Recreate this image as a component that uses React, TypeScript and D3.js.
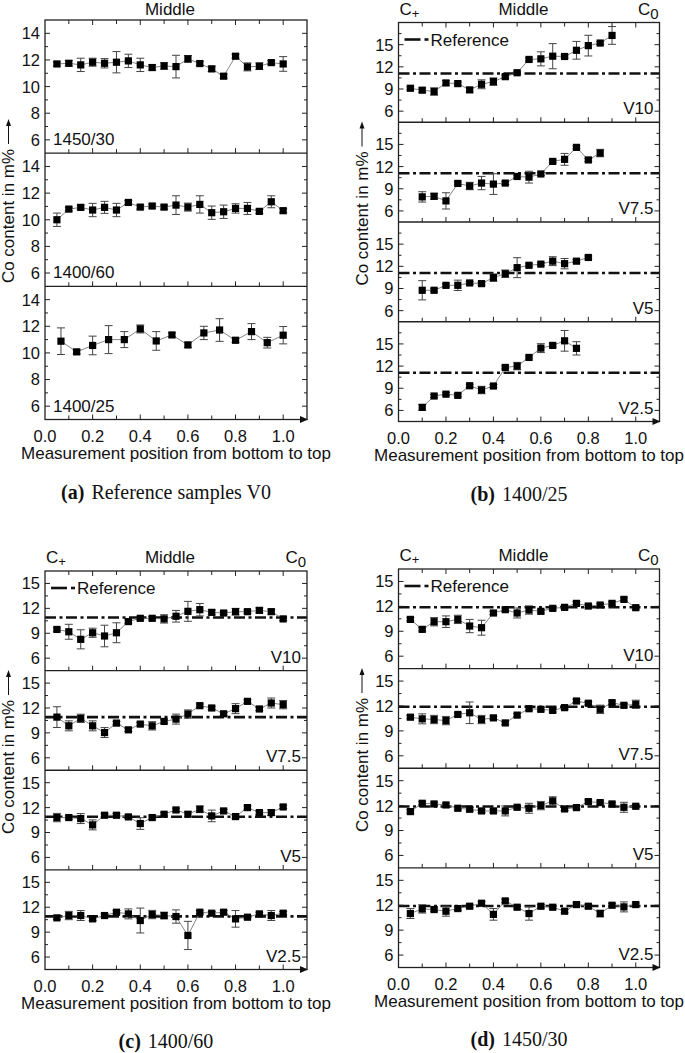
import React from 'react';
import * as d3 from 'd3';

// ---------- data ----------
const pos20 = [0.05, 0.1, 0.15, 0.2, 0.25, 0.3, 0.35, 0.4, 0.45, 0.5, 0.55, 0.6, 0.65, 0.7, 0.75, 0.8, 0.85, 0.9, 0.95, 1.0];
const pos15 = [0.067, 0.133, 0.2, 0.267, 0.333, 0.4, 0.467, 0.533, 0.6, 0.667, 0.733, 0.8, 0.867, 0.933, 1.0];
const posB10 = [0.05, 0.1, 0.15, 0.2, 0.25, 0.3, 0.35, 0.4, 0.45, 0.5, 0.55, 0.6, 0.65, 0.7, 0.75, 0.8, 0.85, 0.9];
const posB75 = [0.1, 0.15, 0.2, 0.25, 0.3, 0.35, 0.4, 0.45, 0.5, 0.55, 0.6, 0.65, 0.7, 0.75, 0.8, 0.85];
const posB5 = [0.1, 0.15, 0.2, 0.25, 0.3, 0.35, 0.4, 0.45, 0.5, 0.55, 0.6, 0.65, 0.7, 0.75, 0.8];
const posB25 = [0.1, 0.15, 0.2, 0.25, 0.3, 0.35, 0.4, 0.45, 0.5, 0.55, 0.6, 0.65, 0.7, 0.75];

const xTickLabels = [0, 0.2, 0.4, 0.6, 0.8, 1.0];
const xTicksAll = [0.1, 0.2, 0.3, 0.4, 0.5, 0.6, 0.7, 0.8, 0.9, 1.0];
const yTicksA = [6, 8, 10, 12, 14];
const yMinorA = [7, 9, 11, 13];
const yTicksV = [6, 9, 12, 15];
const yMinorB = [7.5, 10.5, 13.5, 16.5];
const yMinorCD = [7.5, 10.5, 13.5];

// (a) reference samples V0
const a1450_30 = [11.7, 11.75, 11.63, 11.83, 11.75, 11.83, 11.93, 11.63, 11.43, 11.55, 11.5, 12.08, 11.73, 11.33, 10.78, 12.28, 11.48, 11.53, 11.8, 11.7];
const a1450_30Err = [0.15, 0.2, 0.5, 0.3, 0.35, 0.8, 0.5, 0.5, 0.2, 0.25, 0.85, 0.25, 0.15, 0.2, 0.15, 0.15, 0.3, 0.25, 0.15, 0.55];
const a1400_60 = [10.0, 10.8, 10.93, 10.73, 10.93, 10.73, 11.3, 10.95, 11.03, 10.95, 11.1, 10.95, 11.15, 10.53, 10.6, 10.85, 10.85, 10.63, 11.35, 10.68];
const a1400_60Err = [0.5, 0.15, 0.15, 0.5, 0.45, 0.5, 0.15, 0.15, 0.15, 0.15, 0.7, 0.3, 0.65, 0.5, 0.5, 0.35, 0.45, 0.15, 0.45, 0.15];
const a1400_25 = [10.88, 10.08, 10.56, 11.0, 11.0, 11.8, 10.9, 11.35, 10.6, 11.5, 11.72, 10.95, 11.6, 10.77, 11.33];
const a1400_25Err = [1.0, 0.15, 0.7, 1.05, 0.6, 0.3, 0.7, 0.15, 0.2, 0.5, 0.85, 0.15, 0.6, 0.4, 0.65];

// (b) 1400/25
const bV10 = [9.1, 8.84, 8.66, 9.82, 9.73, 8.88, 9.64, 10.0, 10.67, 11.2, 13.0, 13.08, 13.44, 13.4, 14.24, 14.87, 15.22, 16.25];
const bV10Err = [0.2, 0.3, 0.5, 0.3, 0.2, 0.3, 0.6, 0.5, 0.2, 0.2, 0.2, 0.95, 1.7, 0.2, 1.2, 1.4, 0.2, 1.2];
const bV75 = [7.9, 7.98, 7.36, 9.72, 9.37, 9.77, 9.63, 9.77, 10.66, 10.57, 11.0, 12.7, 12.98, 14.6, 12.9, 13.83];
const bV75Err = [0.7, 0.4, 1.1, 0.2, 0.5, 0.9, 1.4, 0.2, 0.2, 0.8, 0.2, 0.2, 0.8, 0.2, 0.2, 0.5];
const bV5 = [8.76, 8.76, 9.43, 9.43, 9.75, 9.66, 10.47, 11.0, 11.82, 12.14, 12.3, 12.7, 12.36, 12.7, 13.2];
const bV5Err = [1.3, 0.2, 0.2, 0.7, 0.2, 0.2, 0.5, 0.5, 1.35, 0.2, 0.2, 0.6, 0.7, 0.2, 0.2];
const bV25 = [6.41, 7.95, 8.2, 8.04, 9.34, 8.76, 9.3, 11.82, 12.0, 13.17, 14.43, 14.8, 15.42, 14.4];
const bV25Err = [0.4, 0.2, 0.2, 0.2, 0.2, 0.5, 0.2, 0.2, 0.5, 0.2, 0.6, 0.2, 1.4, 0.9];
const refB = 11.1;

// (c) 1400/60
const cV10 = [9.46, 9.18, 8.27, 9.06, 8.67, 9.06, 10.41, 10.8, 10.8, 10.73, 11.05, 11.64, 11.84, 11.52, 11.44, 11.6, 11.6, 11.76, 11.6, 10.73];
const cV10Err = [0.2, 0.9, 1.15, 0.55, 1.3, 1.2, 0.2, 0.2, 0.2, 0.5, 0.7, 1.2, 0.75, 0.3, 0.2, 0.4, 0.2, 0.3, 0.3, 0.2];
const cV75 = [10.9, 9.85, 10.75, 9.85, 9.04, 10.18, 9.37, 10.06, 9.85, 10.38, 10.66, 11.27, 12.28, 12.0, 11.3, 11.92, 12.8, 11.88, 12.6, 12.4];
const cV75Err = [1.25, 0.6, 0.5, 0.6, 0.6, 0.2, 0.2, 0.2, 0.5, 0.2, 0.6, 0.5, 0.2, 0.2, 0.2, 0.6, 0.2, 0.2, 0.6, 0.5];
const cV5 = [10.8, 10.8, 10.68, 9.92, 11.08, 11.08, 10.88, 10.08, 10.8, 11.2, 11.72, 11.2, 11.8, 11.0, 11.6, 10.92, 12.0, 11.4, 11.4, 12.08];
const cV5Err = [0.5, 0.2, 0.6, 0.6, 0.2, 0.2, 0.2, 0.7, 0.2, 0.2, 0.2, 0.3, 0.4, 0.7, 0.2, 0.2, 0.2, 0.2, 0.35, 0.2];
const cV25 = [10.72, 11.0, 11.0, 10.6, 11.0, 11.4, 11.2, 10.4, 11.12, 11.0, 10.88, 8.6, 11.4, 11.28, 11.4, 10.6, 10.8, 11.2, 11.0, 11.28];
const cV25Err = [0.2, 0.5, 0.6, 0.2, 0.2, 0.2, 0.6, 1.5, 0.5, 0.4, 0.8, 1.7, 0.2, 0.2, 0.2, 1.0, 0.2, 0.2, 0.6, 0.2];
const refC = 10.9;

// (d) 1450/30
const dV10 = [10.43, 9.23, 10.15, 10.15, 10.43, 9.63, 9.43, 11.2, 11.6, 11.2, 11.56, 11.4, 11.76, 11.88, 12.36, 12.04, 12.16, 12.36, 12.84, 11.84];
const dV10Err = [0.2, 0.2, 0.5, 0.7, 0.5, 0.8, 0.9, 0.2, 0.2, 0.6, 0.5, 0.2, 0.2, 0.2, 0.2, 0.2, 0.2, 0.2, 0.2, 0.2];
const dV75 = [10.65, 10.45, 10.37, 10.24, 10.98, 11.18, 10.37, 10.57, 9.96, 10.9, 11.67, 11.6, 11.47, 11.8, 12.6, 12.33, 11.6, 12.4, 12.08, 12.2];
const dV75Err = [0.2, 0.6, 0.5, 0.5, 0.2, 1.3, 0.5, 0.2, 0.2, 0.2, 0.2, 0.2, 0.2, 0.2, 0.2, 0.2, 0.5, 0.2, 0.2, 0.5];
const dV5 = [11.28, 12.28, 12.2, 12.08, 11.68, 11.56, 11.36, 11.36, 11.36, 11.8, 11.68, 12.0, 12.56, 11.6, 11.76, 12.48, 12.36, 12.2, 11.8, 11.92];
const dV5Err = [0.2, 0.2, 0.2, 0.2, 0.2, 0.2, 0.2, 0.2, 0.6, 0.2, 0.6, 0.5, 0.5, 0.2, 0.2, 0.2, 0.2, 0.2, 0.6, 0.2];
const dV25 = [11.0, 11.56, 11.48, 11.28, 11.6, 11.88, 12.24, 10.9, 12.52, 11.76, 11.0, 11.88, 11.76, 11.28, 12.08, 11.88, 11.0, 12.0, 11.8, 12.08];
const dV25Err = [0.6, 0.5, 0.2, 0.6, 0.2, 0.2, 0.2, 0.7, 0.2, 0.2, 0.8, 0.2, 0.2, 0.2, 0.2, 0.2, 0.4, 0.2, 0.6, 0.2];
const refD = 11.9;

// ---------- drawing ----------
type Sub = { label: string; x: number[]; y: number[]; err: number[]; ref?: number };
type Panel = {
  left: number; right: number; top: number; bottom: number;
  yDomain: [number, number]; yTicks: number[]; yMinor: number[];
  subs: Sub[]; labelLeft: boolean; full: boolean;
  capBold: string; capText: string; capY: number;
};

const SANS = '"Liberation Sans", Arial, sans-serif';
const SERIF = '"Liberation Serif", "Times New Roman", serif';

const panels: Panel[] = [
  {
    left: 45, right: 307, top: 20, bottom: 419.5, yDomain: [5, 15], yTicks: yTicksA, yMinor: yMinorA,
    subs: [
      { label: '1450/30', x: pos20, y: a1450_30, err: a1450_30Err },
      { label: '1400/60', x: pos20, y: a1400_60, err: a1400_60Err },
      { label: '1400/25', x: pos15, y: a1400_25, err: a1400_25Err },
    ],
    labelLeft: true, full: false, capBold: '(a)', capText: 'Reference samples V0', capY: 499,
  },
  {
    left: 398.5, right: 659.5, top: 22.5, bottom: 421.5, yDomain: [4.5, 18], yTicks: yTicksV, yMinor: yMinorB,
    subs: [
      { label: 'V10', x: posB10, y: bV10, err: bV10Err, ref: refB },
      { label: 'V7.5', x: posB75, y: bV75, err: bV75Err, ref: refB },
      { label: 'V5', x: posB5, y: bV5, err: bV5Err, ref: refB },
      { label: 'V2.5', x: posB25, y: bV25, err: bV25Err, ref: refB },
    ],
    labelLeft: false, full: true, capBold: '(b)', capText: '1400/25', capY: 501,
  },
  {
    left: 45, right: 307, top: 571, bottom: 969.5, yDomain: [4.5, 16.5], yTicks: yTicksV, yMinor: yMinorCD,
    subs: [
      { label: 'V10', x: pos20, y: cV10, err: cV10Err, ref: refC },
      { label: 'V7.5', x: pos20, y: cV75, err: cV75Err, ref: refC },
      { label: 'V5', x: pos20, y: cV5, err: cV5Err, ref: refC },
      { label: 'V2.5', x: pos20, y: cV25, err: cV25Err, ref: refC },
    ],
    labelLeft: false, full: true, capBold: '(c)', capText: '1400/60', capY: 1048,
  },
  {
    left: 398.5, right: 659.5, top: 569, bottom: 967.5, yDomain: [4.5, 16.5], yTicks: yTicksV, yMinor: yMinorCD,
    subs: [
      { label: 'V10', x: pos20, y: dV10, err: dV10Err, ref: refD },
      { label: 'V7.5', x: pos20, y: dV75, err: dV75Err, ref: refD },
      { label: 'V5', x: pos20, y: dV5, err: dV5Err, ref: refD },
      { label: 'V2.5', x: pos20, y: dV25, err: dV25Err, ref: refD },
    ],
    labelLeft: false, full: true, capBold: '(d)', capText: '1450/30', capY: 1046,
  },
];

const DASH = '11,3.5,3,3.5';

function PanelView({ p }: { p: Panel }) {
  const x = d3.scaleLinear().domain([0, 1.1]).range([p.left, p.right]);
  const n = p.subs.length;
  const h = (p.bottom - p.top) / n;
  const fmt = d3.format('.1f');
  const cx = (p.left + p.right) / 2;
  const items: React.ReactNode[] = [];

  p.subs.forEach((s, si) => {
    const st = p.top + si * h;
    const sb = st + h;
    const y = d3.scaleLinear().domain(p.yDomain).range([sb, st]);
    const pts = s.x.map((xv, i) => [x(xv), y(s.y[i])] as [number, number]);
    const line = d3.line()(pts) || '';
    const g: React.ReactNode[] = [];
    if (s.ref !== undefined) {
      g.push(<line key="ref" x1={p.left} x2={p.right} y1={y(s.ref)} y2={y(s.ref)} stroke="#111" strokeWidth={2.6} strokeDasharray={DASH} />);
    }
    g.push(<path key="ln" d={line} fill="none" stroke="#777" strokeWidth={0.9} />);
    s.x.forEach((xv, i) => {
      const px = x(xv);
      const y1 = y(s.y[i] - s.err[i]);
      const y2 = y(s.y[i] + s.err[i]);
      g.push(
        <g key={'e' + i} stroke="#444" strokeWidth={1}>
          <line x1={px} x2={px} y1={y1} y2={y2} />
          <line x1={px - 4} x2={px + 4} y1={y1} y2={y1} />
          <line x1={px - 4} x2={px + 4} y1={y2} y2={y2} />
        </g>
      );
    });
    s.x.forEach((xv, i) => {
      g.push(<rect key={'m' + i} x={x(xv) - 3.6} y={y(s.y[i]) - 3.6} width={7.2} height={7.2} fill="#000" />);
    });
    // ticks
    xTicksAll.forEach((t, i) => {
      const major = Math.abs(Math.round(t * 10) % 2) === 0;
      const len = major ? 5 : 4;
      g.push(<line key={'bt' + i} x1={x(t)} x2={x(t)} y1={sb} y2={sb - len} stroke="#222" strokeWidth={1} />);
      if (si === 0) g.push(<line key={'tt' + i} x1={x(t)} x2={x(t)} y1={st} y2={st + len} stroke="#222" strokeWidth={1} />);
    });
    p.yTicks.forEach((t, i) => {
      g.push(<line key={'ly' + i} x1={p.left} x2={p.left + 5} y1={y(t)} y2={y(t)} stroke="#222" strokeWidth={1} />);
      g.push(<line key={'ry' + i} x1={p.right} x2={p.right - 5} y1={y(t)} y2={y(t)} stroke="#222" strokeWidth={1} />);
      g.push(<text key={'yl' + i} x={p.left - 5} y={y(t)} dy="0.36em" textAnchor="end" fontSize={16.5} fontFamily={SANS} fill="#111">{t}</text>);
    });
    p.yMinor.forEach((t, i) => {
      g.push(<line key={'lm' + i} x1={p.left} x2={p.left + 3} y1={y(t)} y2={y(t)} stroke="#222" strokeWidth={1} />);
      g.push(<line key={'rm' + i} x1={p.right} x2={p.right - 3} y1={y(t)} y2={y(t)} stroke="#222" strokeWidth={1} />);
    });
    g.push(
      <text key="lab" x={p.labelLeft ? p.left + 8 : p.right - 6} y={sb - 8} textAnchor={p.labelLeft ? 'start' : 'end'} fontSize={17} fontFamily={SANS} fill="#111">{s.label}</text>
    );
    if (si > 0) g.push(<line key="sep" x1={p.left} x2={p.right} y1={st} y2={st} stroke="#222" strokeWidth={1.3} />);
    items.push(<g key={'s' + si}>{g}</g>);
  });

  // frame
  items.push(<rect key="frame" x={p.left} y={p.top} width={p.right - p.left} height={p.bottom - p.top} fill="none" stroke="#222" strokeWidth={1.3} />);
  items.push(<path key="xarrow" d={`M${p.right - 7},${p.bottom - 3.5}L${p.right + 1},${p.bottom}L${p.right - 7},${p.bottom + 3.5}Z`} fill="#111" />);

  // x tick labels and title
  xTickLabels.forEach((t, i) => {
    items.push(<text key={'xl' + i} x={x(t)} y={p.bottom + 22} textAnchor="middle" fontSize={16.5} fontFamily={SANS} fill="#111">{fmt(t)}</text>);
  });
  items.push(<text key="xt" x={cx} y={p.bottom + 39} textAnchor="middle" fontSize={17} fontFamily={SANS} fill="#111">Measurement position from bottom to top</text>);

  // y title with arrow
  const ycx = p.left - 36.5;
  const ycy = p.top + 196;
  items.push(
    <g key="yt" transform={`translate(${ycx},${ycy}) rotate(-90)`}>
      <text x={0} y={0} dy="0.35em" textAnchor="middle" fontSize={17} fontFamily={SANS} fill="#111">Co content in m%</text>
      <line x1={72} x2={92} y1={0} y2={0} stroke="#111" strokeWidth={1} />
      <path d="M97,0L90,-2.5L90,2.5Z" fill="#111" />
    </g>
  );

  // top labels
  const topY = p.full ? p.top - 8 : p.top - 5.5;
  items.push(<text key="mid" x={p.left + 125} y={topY} textAnchor="middle" fontSize={17} fontFamily={SANS} fill="#111">Middle</text>);
  if (p.full) {
    items.push(
      <text key="cp" x={p.left + 1} y={topY} fontSize={17} fontFamily={SANS} fill="#111">C<tspan fontSize={13} dy={3}>+</tspan></text>
    );
    items.push(
      <text key="c0" x={p.right - 1} y={topY} textAnchor="end" fontSize={17} fontFamily={SANS} fill="#111">C<tspan fontSize={15} dy={4}>0</tspan></text>
    );
    // legend
    const ly = p.top + 23;
    items.push(
      <g key="leg">
        <line x1={p.left + 6} x2={p.left + 22} y1={ly - 6} y2={ly - 6} stroke="#111" strokeWidth={2.6} />
        <line x1={p.left + 26} x2={p.left + 30} y1={ly - 6} y2={ly - 6} stroke="#111" strokeWidth={2.6} />
        <text x={p.left + 32} y={ly} fontSize={17} fontFamily={SANS} fill="#111">Reference</text>
      </g>
    );
  }

  // caption
  items.push(
    <text key="cap" x={cx - 10} y={p.capY} textAnchor="middle" fontSize={20} fontFamily={SERIF} fill="#111">
      <tspan fontWeight="bold">{p.capBold}</tspan>
      <tspan dx={7}>{p.capText}</tspan>
    </text>
  );

  return <g>{items}</g>;
}

export default function App() {
  return (
    <svg width={685} height={1053} viewBox="0 0 685 1053" style={{ position: 'absolute', left: 0, top: 0, background: '#fff' }}>
      <rect x={0} y={0} width={685} height={1053} fill="#fff" />
      {panels.map((p, i) => <PanelView key={i} p={p} />)}
    </svg>
  );
}
